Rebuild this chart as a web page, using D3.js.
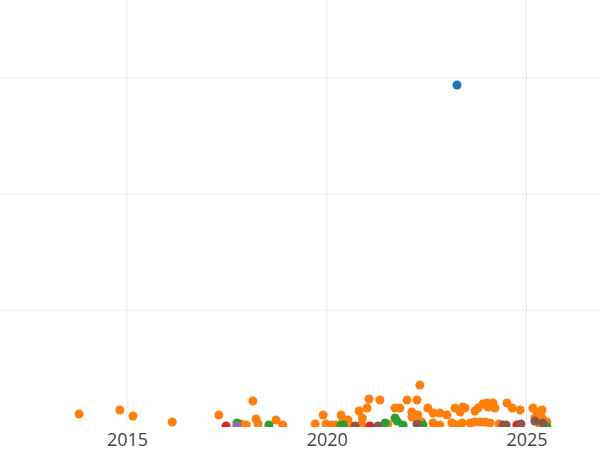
<!DOCTYPE html>
<html lang="en">
<head>
    <meta charset="UTF-8">
    <title>Scatter over time</title>
    <script src="https://cdnjs.cloudflare.com/ajax/libs/d3/7.8.5/d3.min.js"></script>
    <style>
        body { margin: 0; background: #fff; }
        svg { display: block; font-family: "Open Sans", sans-serif; }
    </style>
</head>
<body>
    <div id="chart"></div>

    <script>
        // decimal year, value  (one array pair per colour group)
        const blueYears = [2023.26];
        const blueVals = [293.5];

        const orangeYears = [2013.80, 2014.82, 2015.15, 2016.13, 2017.30, 2018.15, 2017.85, 2017.98, 2018.23, 2018.28,
            2018.73, 2018.90, 2019.71, 2019.91, 2019.98, 2020.13, 2020.36, 2020.41, 2020.53, 2020.81,
            2020.89, 2021.01, 2021.06, 2021.33, 2021.71, 2021.83, 2022.01, 2022.26, 2022.33, 2022.13,
            2022.13, 2022.28, 2022.38, 2022.53, 2022.66, 2022.83, 2023.01, 2023.21, 2023.34, 2022.66,
            2023.13, 2023.16, 2023.39, 2023.41, 2023.46, 2023.59, 2023.71, 2023.71, 2023.79, 2023.84,
            2023.91, 2023.96, 2024.04, 2024.09, 2024.16, 2024.21, 2024.51, 2024.64, 2024.84, 2025.16,
            2025.26, 2025.39, 2025.21, 2025.39, 2025.51, 2025.34, 2020.23, 2020.58, 2020.88, 2021.53,
            2022.83, 2023.28, 2024.31, 2024.01];
        const orangeVals = [11.2, 14.6, 9.4, 4.3, 10.3, 22.3, 2.6, 1.7, 6.9, 2.6,
            6.0, 1.7, 2.6, 10.3, 2.6, 1.7, 10.3, 6.0, 6.0, 13.7,
            7.7, 16.3, 24.0, 23.2, 16.3, 16.3, 23.2, 23.2, 36.0, 12.9,
            8.6, 10.3, 4.3, 16.3, 12.0, 12.0, 10.3, 16.3, 12.9, 3.4,
            3.4, 2.6, 3.4, 17.2, 16.3, 3.4, 13.7, 4.3, 16.3, 4.3,
            19.7, 4.3, 17.2, 3.4, 20.6, 16.3, 20.6, 16.3, 14.6, 16.3,
            12.9, 14.6, 7.7, 7.7, 4.3, 0.5, 1.7, 1.7, 2.6, 2.6,
            1.7, 1.7, 2.6, 20.6];

        const greenYears = [2017.75, 2018.55, 2020.41, 2021.46, 2021.71, 2021.76, 2021.91, 2022.41, 2025.51, 2020.35];
        const greenVals = [3.4, 1.7, 1.7, 3.4, 7.7, 5.1, 1.7, 1.7, 0.3, 1.2];

        const redYears = [2017.48, 2021.08, 2024.76];
        const redVals = [0.9, 0.9, 1.7];

        const purpleYears = [2017.75];
        const purpleVals = [0.9];

        const brownYears = [2020.71, 2021.28, 2022.26, 2024.41, 2024.49, 2024.86, 2025.21, 2025.41];
        const brownVals = [0.9, 0.9, 2.6, 1.7, 1.7, 2.6, 5.1, 3.4];

        const xTicks = [2015, 2020, 2025];
        const yGrid = [100, 200, 300];

        const groups = [
            { color: "#ff7f0e", years: orangeYears, vals: orangeVals },
            { color: "#2ca02c", years: greenYears, vals: greenVals },
            { color: "#d62728", years: redYears, vals: redVals },
            { color: "#9467bd", years: purpleYears, vals: purpleVals },
            { color: "#8c564b", years: brownYears, vals: brownVals },
            { color: "#1f77b4", years: blueYears, vals: blueVals }
        ];

        const width = 600;
        const height = 450;
        const plotBottom = 427;

        const svg = d3.select("#chart")
            .append("svg")
            .attr("width", width)
            .attr("height", height);

        const x = d3.scaleLinear()
            .domain([2011.82, 2026.84])
            .range([0, width]);

        const y = d3.scaleLinear()
            .domain([0, 366.5])
            .range([plotBottom, 0]);

        svg.append("defs").append("clipPath")
            .attr("id", "plot")
            .append("rect")
            .attr("x", 0).attr("y", 0)
            .attr("width", width).attr("height", plotBottom);

        // grid
        svg.append("g")
            .selectAll("line")
            .data(xTicks)
            .join("line")
            .attr("x1", d => x(d)).attr("x2", d => x(d))
            .attr("y1", 0).attr("y2", plotBottom - 1)
            .attr("stroke", "#ebebeb")
            .attr("stroke-width", 1);

        svg.append("g")
            .selectAll("line")
            .data(yGrid)
            .join("line")
            .attr("x1", 0).attr("x2", width)
            .attr("y1", d => y(d)).attr("y2", d => y(d))
            .attr("stroke", "#ebebeb")
            .attr("stroke-width", 1);

        // points
        const pts = svg.append("g").attr("clip-path", "url(#plot)");
        groups.forEach(g => {
            const data = g.years.map((yr, i) => ({ yr: yr, v: g.vals[i] }));
            pts.append("g")
                .selectAll("circle")
                .data(data)
                .join("circle")
                .attr("cx", d => x(d.yr))
                .attr("cy", d => y(d.v))
                .attr("r", 4.5)
                .attr("fill", g.color);
        });

        // x axis labels
        const xAxis = svg.append("g")
            .attr("transform", `translate(0,${plotBottom})`)
            .call(d3.axisBottom(x).tickValues(xTicks).tickFormat(d3.format("d")).tickSize(0));
        xAxis.select(".domain").remove();
        xAxis.selectAll("text")
            .attr("dy", null)
            .attr("y", 18.5)
            .attr("font-size", "18px")
            .attr("font-family", "Open Sans, sans-serif")
            .attr("fill", "#444");
    </script>
</body>
</html>
